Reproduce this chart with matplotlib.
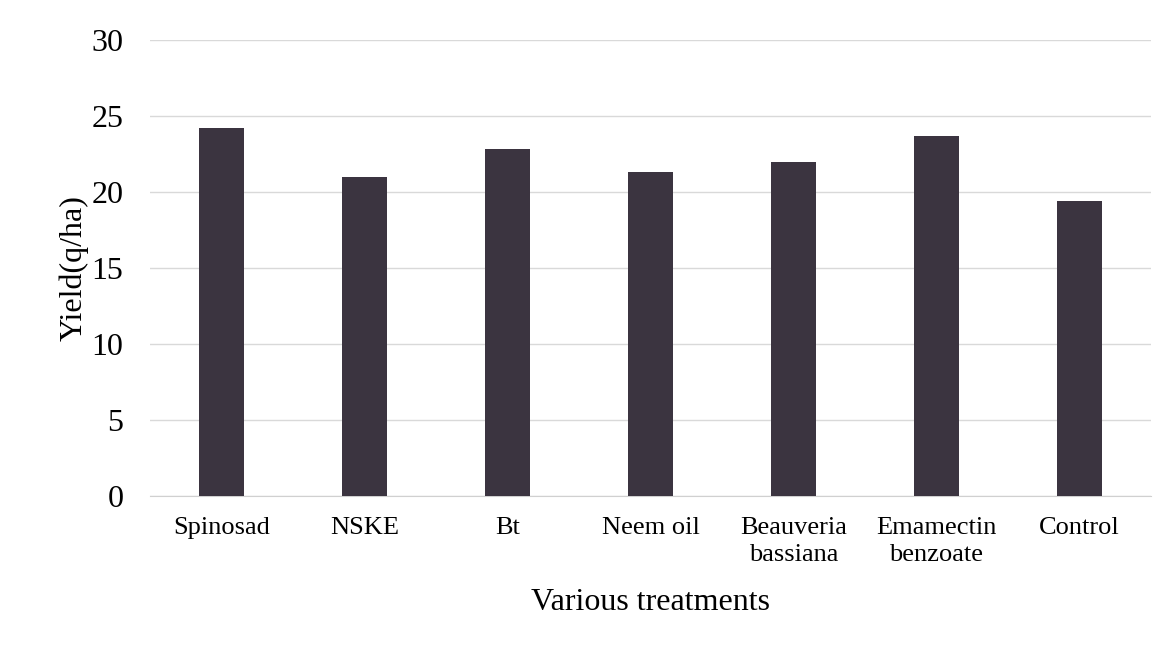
import matplotlib
matplotlib.use("Agg")
import matplotlib.pyplot as plt

categories = ["Spinosad", "NSKE", "Bt", "Neem oil", "Beauveria\nbassiana", "Emamectin\nbenzoate", "Control"]
yield_values = [24.2, 21.0, 22.8, 21.3, 22.0, 23.7, 19.4]
y_ticks = [0, 5, 10, 15, 20, 25, 30]

plt.rcParams['font.family'] = ['Liberation Serif', 'DejaVu Serif']

fig = plt.figure(figsize=(11.73, 6.47), dpi=100)
ax = fig.add_axes([150/1173, 1 - 496/647, (1151-150)/1173, (496-40)/647])

x = list(range(len(categories)))
ax.bar(x, yield_values, width=0.31, color="#3b3440", zorder=3)

ax.set_xlim(-0.5, 6.5)
ax.set_ylim(0, 30)
ax.set_yticks(y_ticks)
ax.set_yticklabels([str(v) for v in y_ticks], fontsize=23)
ax.set_xticks(x)
ax.set_xticklabels(categories, fontsize=19, linespacing=1.3, va="top")
ax.tick_params(axis="both", length=0)
ax.tick_params(axis="y", pad=19)
ax.tick_params(axis="x", pad=15)

ax.grid(axis="y", color="#d9d9d9", linewidth=1, zorder=0)
for s in ["top", "right", "left"]:
    ax.spines[s].set_visible(False)
ax.spines["bottom"].set_color("#d0d0d0")

ax.set_ylabel("Yield(q/ha)", fontsize=23, labelpad=2)
ax.set_xlabel("Various treatments", fontsize=23, labelpad=16)

fig.savefig("out.png", dpi=100)
